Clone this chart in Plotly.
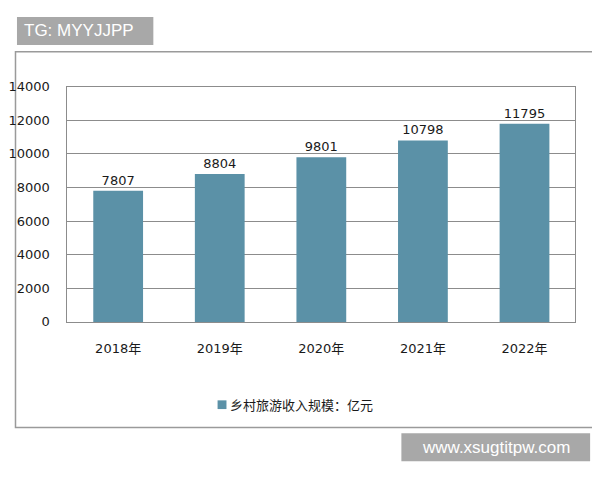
import plotly.graph_objects as go

years = ["2018年", "2019年", "2020年", "2021年", "2022年"]
income = [7807, 8804, 9801, 10798, 11795]
y_ticks = [0, 2000, 4000, 6000, 8000, 10000, 12000, 14000]

# the page body adds an 8px margin, so the figure is sized to fill the rest
OFF = 8
W, H = 600 - OFF, 480 - OFF
_BAR = "#5B91A7"
_GRID = "#8C8C8C"
_INK = "#1A1A1A"
_FONT = "DejaVu Sans, Noto Sans CJK SC, sans-serif"


def px(x):
    return max(x - OFF, 0.5) / W


def py(y):
    return 1 - max(y - OFF, 0.5) / H


fig = go.Figure()
fig.add_trace(
    go.Bar(
        x=years, y=income,
        marker=dict(color=_BAR, line=dict(width=0)),
        width=0.49,
        text=[str(v) for v in income],
        textposition="outside",
        textfont=dict(family=_FONT, size=13, color=_INK),
        cliponaxis=False,
        name="乡村旅游收入规模：亿元",
        showlegend=False,
    )
)

# legend drawn as a small square + label (Excel style)
fig.add_shape(type="rect", xref="paper", yref="paper",
              x0=px(213), x1=px(222), y0=py(415), y1=py(406),
              fillcolor=_BAR, line=dict(width=0))
fig.add_annotation(x=px(224), y=py(410), xref="paper", yref="paper",
                   text="乡村旅游收入规模：亿元", showarrow=False,
                   xanchor="left", yanchor="middle",
                   font=dict(family="Noto Sans CJK SC", size=13, color=_INK))

# outer chart frame
fig.add_shape(type="rect", xref="paper", yref="paper",
              x0=px(6), x1=px(594), y0=py(434), y1=py(46),
              line=dict(color="#9A9A9A", width=1.5), fillcolor="rgba(0,0,0,0)",
              layer="below")

# watermark boxes
fig.add_shape(type="rect", xref="paper", yref="paper",
              x0=px(10), x1=px(148), y0=py(39), y1=py(10),
              fillcolor="#A8A8A8", line=dict(width=0))
fig.add_annotation(x=px(15), y=py(24.5), xref="paper", yref="paper",
                   text="TG: MYYJJPP", showarrow=False,
                   xanchor="left", yanchor="middle",
                   font=dict(family="Liberation Sans, Arial, sans-serif", size=17, color="white"))
fig.add_shape(type="rect", xref="paper", yref="paper",
              x0=px(399), x1=px(590), y0=py(469), y1=py(440),
              fillcolor="#A8A8A8", line=dict(width=0))
fig.add_annotation(x=px(494.5), y=py(454.5), xref="paper", yref="paper",
                   text="www.xsugtitpw.com", showarrow=False,
                   xanchor="center", yanchor="middle",
                   font=dict(family="Liberation Sans, Arial, sans-serif", size=17, color="white"))

fig.update_layout(
    width=W, height=H,
    margin=dict(l=0, r=0, t=0, b=0),
    paper_bgcolor="white",
    plot_bgcolor="white",
    font=dict(family=_FONT, size=13, color=_INK),
    showlegend=False,
)
fig.update_xaxes(
    domain=[px(61), px(575)],
    showgrid=False,
    showline=True, linecolor=_GRID, linewidth=1,
    mirror=True,
    ticks="", tickfont=dict(family=_FONT, size=13, color=_INK),
    ticklabelstandoff=14,
)
fig.update_yaxes(
    domain=[py(325), py(82)],
    range=[0, 14000],
    tickvals=y_ticks,
    ticktext=[str(v) for v in y_ticks],
    showgrid=True, gridcolor=_GRID, gridwidth=1,
    showline=True, linecolor=_GRID, linewidth=1,
    mirror=True,
    zeroline=False,
    ticks="", tickfont=dict(family=_FONT, size=13, color=_INK),
    ticklabelstandoff=14,
)

fig.write_html("out.html")
